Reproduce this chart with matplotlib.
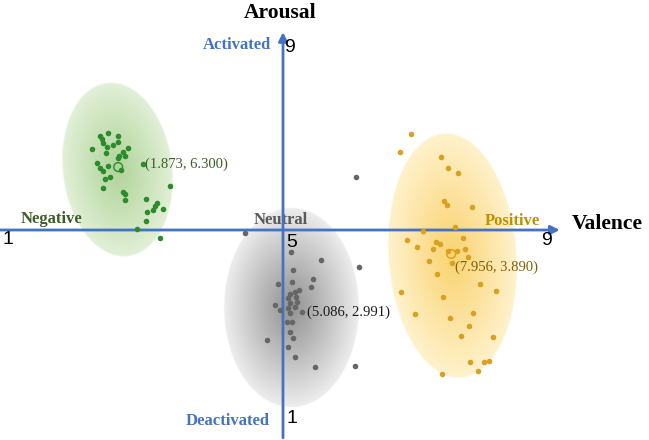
import numpy as np
import matplotlib
matplotlib.use("Agg")
import matplotlib.pyplot as plt

# ---------------- data (valence, arousal) ----------------
neg_v = [2.27, 2.39, 2.54, 2.30, 2.31, 2.46, 2.54, 2.37, 2.15, 2.69, 2.61, 2.36, 2.55,
         2.64, 2.54, 2.22, 2.39, 2.27, 2.31, 2.58, 2.91, 2.42, 2.34, 2.31, 3.31, 2.61,
         2.64, 2.64, 2.96, 3.12, 3.09, 2.97, 3.21, 3.06, 2.96, 2.82, 3.16]
neg_a = [7.00, 7.06, 7.00, 6.94, 6.85, 6.81, 6.87, 6.77, 6.72, 6.74, 6.66, 6.64, 6.57,
         6.57, 6.53, 6.43, 6.36, 6.32, 6.26, 6.28, 6.40, 6.13, 6.09, 5.89, 5.94, 5.81,
         5.77, 5.64, 5.66, 5.57, 5.51, 5.38, 5.45, 5.43, 5.19, 5.02, 4.83]

neu_v = [6.09, 4.43, 5.12, 5.57, 6.13, 5.15, 5.45, 5.13, 4.93, 5.42, 5.24, 5.18, 5.10,
         5.19, 5.07, 5.21, 4.88, 5.10, 5.18, 4.96, 5.07, 5.28, 5.10, 5.06, 5.13, 5.10,
         5.15, 4.76, 5.07, 5.18, 5.48, 6.07]
neu_a = [6.13, 4.94, 4.53, 4.36, 4.21, 4.15, 3.96, 3.89, 3.85, 3.79, 3.72, 3.68, 3.64,
         3.57, 3.55, 3.47, 3.40, 3.45, 3.36, 3.30, 3.34, 3.26, 3.23, 3.04, 3.04, 2.83,
         2.70, 2.66, 2.51, 2.30, 2.09, 2.11]

pos_v = [6.91, 6.75, 7.36, 7.46, 7.61, 7.40, 7.45, 7.82, 7.57, 7.09, 7.69, 6.85, 7.28,
         7.34, 7.00, 7.24, 7.46, 7.60, 7.72, 7.76, 7.18, 7.52, 7.30, 7.94, 6.76, 8.18,
         7.39, 6.97, 7.84, 7.49, 7.78, 7.66, 8.13, 7.79, 8.00, 8.07, 7.91, 7.37]
pos_a = [7.04, 6.66, 6.55, 6.32, 6.21, 5.62, 5.53, 5.49, 5.06, 4.98, 4.83, 4.79, 4.74,
         4.70, 4.64, 4.60, 4.55, 4.55, 4.60, 4.43, 4.34, 4.30, 4.06, 3.85, 3.68, 3.70,
         3.57, 3.21, 3.23, 3.13, 2.96, 2.74, 2.72, 2.19, 2.19, 2.21, 2.00, 1.94]

# centroid markers as drawn, and their printed labels
cent_v = [2.54, 5.12, 7.51]
cent_a = [6.34, 3.30, 4.49]
cent_labels = ["(1.873, 6.300)", "(5.086, 2.991)", "(7.956, 3.890)"]

# spread ellipses: centre, semi-axis (valence units), semi-axis (arousal units), tilt deg
ell_cv = [2.52, 5.12, 7.52]
ell_ca = [6.28, 3.34, 4.45]
ell_sv = [0.82, 1.01, 0.96]
ell_sa = [1.87, 2.13, 2.62]
ell_ang = [7, 0, 4]

# ---------------- figure ----------------
W, H = 649, 440
fig = plt.figure(figsize=(W / 100, H / 100), dpi=100)
ax = fig.add_axes([0, 0, 1, 1])
XL = (0.776, 10.463)
YL = (0.532, 9.894)
sx = W / (XL[1] - XL[0])
sy = H / (YL[1] - YL[0])

BLUE = "#4472C4"
SERIF = "Liberation Serif"
SANS = "Liberation Sans"


def blob(cx, cy, sv, sa, ang, c_in, c_out):
    a_px, b_px = sv * sx, sa * sy
    R = max(a_px, b_px) * 1.05
    x0, x1 = cx - R / sx, cx + R / sx
    y0, y1 = cy - R / sy, cy + R / sy
    n = 500
    X, Y = np.meshgrid(np.linspace(x0, x1, n), np.linspace(y0, y1, n))
    dx = (X - cx) * sx
    dy = (Y - cy) * sy
    t = np.deg2rad(ang)
    u = dx * np.cos(t) + dy * np.sin(t)
    v = -dx * np.sin(t) + dy * np.cos(t)
    r = np.sqrt((u / a_px) ** 2 + (v / b_px) ** 2)
    f = np.clip(r, 0, 1) ** 1.1
    c_in = np.array(c_in) / 255.0
    c_out = np.array(c_out) / 255.0
    rgb = c_in[None, None, :] * (1 - f)[..., None] + c_out[None, None, :] * f[..., None]
    alpha = np.clip((1 - r) * min(a_px, b_px), 0, 1)
    img = np.dstack([rgb, alpha])
    ax.imshow(img, extent=(x0, x1, y0, y1), origin="lower", interpolation="bilinear",
              zorder=1, aspect="auto")


blob(ell_cv[0], ell_ca[0], ell_sv[0], ell_sa[0], ell_ang[0], (178, 212, 155), (226, 240, 216))
blob(ell_cv[1], ell_ca[1], ell_sv[1], ell_sa[1], ell_ang[1], (148, 148, 148), (238, 238, 238))
blob(ell_cv[2], ell_ca[2], ell_sv[2], ell_sa[2], ell_ang[2], (250, 212, 115), (255, 242, 205))

# axes arrows
arrow = dict(arrowstyle="-|>", color=BLUE, lw=2, mutation_scale=13, shrinkA=0, shrinkB=0)
ax.annotate("", xy=(9.13, 5), xytext=(XL[0], 5), arrowprops=arrow, zorder=3)
ax.annotate("", xy=(5, 9.21), xytext=(5, 0.58), arrowprops=arrow, zorder=3)

# points
ax.scatter(neg_v, neg_a, s=16, color="#2A8C2A", zorder=4, linewidths=0)
ax.scatter(neu_v, neu_a, s=16, color="#666666", zorder=4, linewidths=0)
ax.scatter(pos_v, pos_a, s=16, color="#D9A021", zorder=4, linewidths=0)

# centroids
ax.scatter([cent_v[0]], [cent_a[0]], s=40, facecolors="none", edgecolors="#2A8C2A", lw=1, zorder=4)
ax.scatter([cent_v[2]], [cent_a[2]], s=40, facecolors="none", edgecolors="#D9A021", lw=1, zorder=4)

lab_col = ["#3B5E27", "#1A1A1A", "#7F6000"]
lab_pos = [(2.94, 6.40), (5.36, 3.26), (7.57, 4.21)]
for (lx, ly), t, c in zip(lab_pos, cent_labels, lab_col):
    ax.text(lx, ly, t, fontsize=10.5, family=SERIF, color=c, ha="left", va="center", zorder=5)

# axis titles & pole labels
ax.text(4.955, 9.62, "Arousal", fontsize=15.5, family=SERIF, weight="bold", ha="center", va="center")
ax.text(9.84, 5.13, "Valence", fontsize=15.5, family=SERIF, weight="bold", ha="center", va="center")
ax.text(4.31, 8.94, "Activated", fontsize=12, family=SERIF, weight="bold", color=BLUE,
        ha="center", va="center")
ax.text(4.18, 0.94, "Deactivated", fontsize=12, family=SERIF, weight="bold", color=BLUE,
        ha="center", va="center")
ax.text(1.54, 5.23, "Negative", fontsize=12, family=SERIF, weight="bold", color="#3B5E27",
        ha="center", va="center", zorder=5)
ax.text(4.97, 5.21, "Neutral", fontsize=12, family=SERIF, weight="bold", color="#595959",
        ha="center", va="center", zorder=2)
ax.text(8.42, 5.19, "Positive", fontsize=12, family=SERIF, weight="bold", color="#BF9000",
        ha="center", va="center", zorder=5)

# scale numbers
for x, y, t in [(0.90, 4.79, "1"), (8.93, 4.77, "9"), (5.13, 4.74, "5"),
                (5.10, 8.89, "9"), (5.13, 1.00, "1")]:
    ax.text(x, y, t, fontsize=14, family=SANS, ha="center", va="center", zorder=5)

ax.set_xlim(*XL)
ax.set_ylim(*YL)
ax.axis("off")
fig.savefig("out.png", dpi=100)
